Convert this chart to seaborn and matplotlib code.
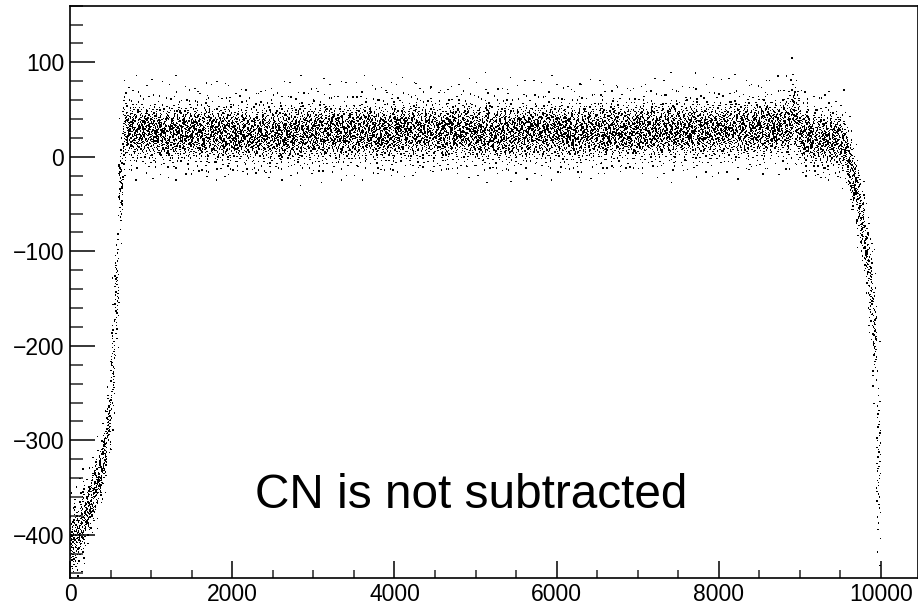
import numpy as np
import pandas as pd
import matplotlib
matplotlib.use("Agg")
import matplotlib.pyplot as plt
from matplotlib.ticker import MultipleLocator
import seaborn as sns

# ---- data -----------------------------------------------------------------
# channel blocks of 50 strips; block centre (pedestal level) per block
block_size = 50
block_centre = (
    [-410, -402, -393, -383, -372, -360, -348, -335, -315, -280,
     -225, -140, -30, 28, 27, 26, 27, 28, 26, 25]
    + [26, 25, 27, 26, 24, 25, 27, 26, 25, 24, 26, 25, 24, 26, 27, 25, 24, 23, 25, 26]
    + [24, 23, 25, 24, 22, 23, 24, 25, 24, 23, 25, 26, 24, 25, 26, 25, 24, 26, 27, 25]
    + [26, 25, 24, 26, 27, 25, 24, 25, 26, 27, 26, 25, 27, 28, 26, 25, 27, 26, 25, 27]
    + [27, 26, 28, 27, 26, 28, 29, 27, 26, 27, 28, 26, 25, 27, 28, 27, 26, 28, 27, 26]
    + [26, 25, 27, 26, 24, 25, 26, 27, 25, 24, 26, 27, 25, 26, 28, 27, 26, 25, 27, 28]
    + [27, 26, 28, 27, 26, 25, 27, 28, 26, 27, 28, 27, 26, 28, 29, 27, 26, 28, 27, 28]
    + [28, 27, 29, 28, 27, 26, 28, 29, 27, 28, 29, 28, 27, 29, 30, 28, 27, 29, 28, 29]
    + [29, 28, 30, 29, 28, 30, 31, 29, 30, 31, 30, 29, 31, 32, 30, 31, 33, 32, 45, 34]
    + [24, 22, 21, 20, 19, 18, 19, 20, 18, 17,
       15, 8, -10, -25, -45, -70, -100, -135, -185, -320]
)
# spread (width) of the strips around the block centre
block_spread = (
    [20, 19, 18, 17, 17, 16, 15, 14, 14, 16,
     25, 30, 28, 18, 16, 16, 16, 16, 16, 16]
    + [16] * 158
    + [22, 18]
    + [16] * 10
    + [16, 16, 16, 15, 15, 17, 20, 22, 30, 45]
)
# block-to-block noise-level variation (relative, in 1/16)
spread_cycle = [14, 17, 15, 19, 13, 16, 18, 15, 17, 14, 20, 16,
                13, 18, 15, 17, 19, 14, 16, 15, 18, 13, 17]
# two typed deviation patterns of the strips inside a block (units of spread)
strip_pattern_a = [
    0.44, -1.13, 0.08, 1.64, -0.28, -0.67, 0.95, -0.03, 0.23, -2.05,
    0.61, -0.39, 1.23, -0.13, -0.81, 0.33, 3.10, -0.55, 0.03, -1.34,
    0.74, -0.18, 0.50, -0.95, 1.04, -0.08, -1.48, 0.18, 0.88, -0.44,
    -2.70, 0.13, 1.34, -0.61, 0.28, -0.74, 2.20, -0.23, -1.04, 0.55,
    -0.33, 0.67, -1.64, 1.13, -0.50, 0.39, -0.88, 1.48, -1.23, 0.81,
]
strip_pattern_b = [
    -0.47, 1.18, -0.10, 0.26, -1.75, 0.64, -0.05, 2.60, -0.36, 0.84,
    -1.00, 0.16, -0.58, 1.41, 0.05, -0.21, 0.92, -1.28, 0.42, -0.71,
    1.75, -0.31, 0.10, -2.35, 0.58, -0.84, 0.31, -0.16, 1.08, -0.52,
    0.21, -1.56, 0.71, -0.26, 1.95, -0.92, 0.47, -0.64, 0.36, -1.18,
    1.28, -0.42, 0.52, -1.08, 0.77, -0.77, 1.56, -1.41, 1.00, -2.05,
]
# strip read-out order inside each block (steps coprime with 50)
readout_steps = [1, 3, 7, 9, 11, 13, 17, 19, 21, 23,
                 27, 29, 31, 33, 37, 39, 41, 43, 47, 49]

x_ticks_major = [0, 2000, 4000, 6000, 8000, 10000]
y_ticks_major = [-400, -300, -200, -100, 0, 100]
label_text = "CN is not subtracted"

# ---- build the table -------------------------------------------------------
n_blocks = len(block_centre)
chan, adc = [], []
for b in range(n_blocks):
    pattern = strip_pattern_a if b % 2 == 0 else strip_pattern_b
    step = readout_steps[(b * 7) % len(readout_steps)]
    off = (b * 13) % block_size
    sigma = block_spread[b] * spread_cycle[b % len(spread_cycle)] / 16.0
    for j in range(block_size):
        k = (j * step + off) % block_size
        chan.append(b * block_size + j)
        adc.append(block_centre[b] + sigma * pattern[k])
df = pd.DataFrame({"channel": chan, "adc": adc})

# ---- plot ------------------------------------------------------------------
sns.set_theme(style="ticks")
plt.rcParams["font.family"] = ["Liberation Sans", "DejaVu Sans"]

W, H = 918, 607
fig = plt.figure(figsize=(W / 100, H / 100), dpi=100)
left, right, top, bottom = 70.3, 918.5, 5.7, 578.3
ax = fig.add_axes([left / W, 1 - bottom / H, (right - left) / W, (bottom - top) / H])

sns.scatterplot(data=df, x="channel", y="adc", ax=ax, s=1.0, marker="s",
                color="black", linewidth=0, edgecolor="none", legend=False)

# 10000 at pixel 880.7
xmax = 10000 * (right - left) / (880.7 - left)
ax.set_xlim(0, xmax)
ax.set_ylim(-446, 160)

ax.set_xticks(x_ticks_major)
ax.set_yticks(y_ticks_major)
ax.xaxis.set_minor_locator(MultipleLocator(500))
ax.yaxis.set_minor_locator(MultipleLocator(20))
ax.set_xlabel("")
ax.set_ylabel("")

ax.tick_params(axis="x", which="major", direction="in", length=12.2, width=1.1,
               labelsize=16.5, pad=3.5, colors="black")
ax.tick_params(axis="x", which="minor", direction="in", length=5.8, width=1.1)
ax.tick_params(axis="y", which="major", direction="in", length=18, width=1.1,
               labelsize=16.5, pad=4.5, colors="black")
ax.tick_params(axis="y", which="minor", direction="in", length=9.4, width=1.1)

for side in ["left", "bottom", "top", "right"]:
    ax.spines[side].set_visible(True)
    ax.spines[side].set_linewidth(1.2)
    ax.spines[side].set_color("black")

fig.text(255 / W, 1 - 508 / H, label_text, fontsize=34.4, ha="left",
         va="baseline", color="black")

fig.savefig("out.png", dpi=100)
